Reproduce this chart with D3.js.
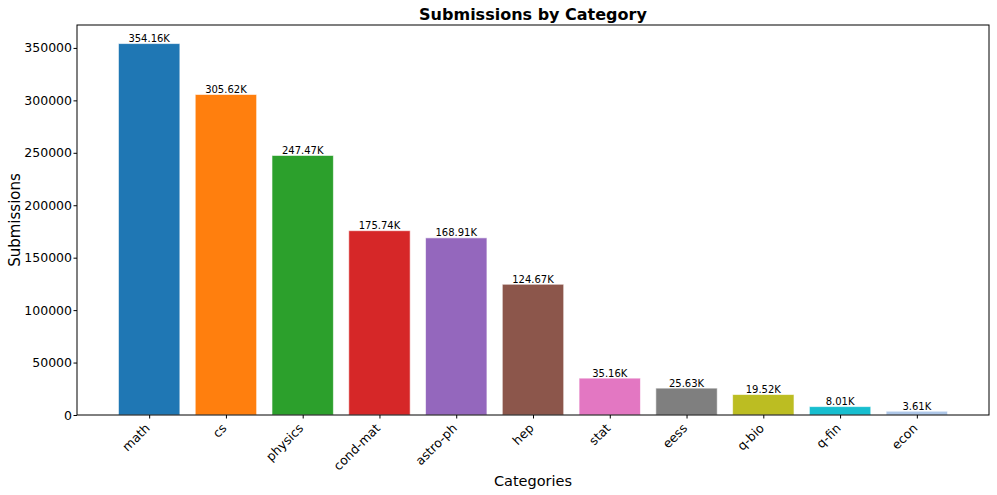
<!DOCTYPE html>
<meta charset="utf-8">
<style>
body { margin: 0; background: #fff; }
text { font-family: "DejaVu Sans", sans-serif; fill: #000; }
.axis text { font-size: 12.5px; }
.axis path, .axis line { stroke: #000; stroke-width: 1; }
.vlabel { font-size: 10px; }
</style>
<body>
<script src="https://d3js.org/d3.v7.min.js"></script>
<script>

var categories = ["math", "cs", "physics", "cond-mat", "astro-ph", "hep", "stat", "eess", "q-bio", "q-fin", "econ"];
var submissions = [354160, 305620, 247470, 175740, 168910, 124670, 35160, 25630, 19520, 8010, 3610];
var barLabels = ["354.16K", "305.62K", "247.47K", "175.74K", "168.91K", "124.67K", "35.16K", "25.63K", "19.52K", "8.01K", "3.61K"];
var yTicks = [0, 50000, 100000, 150000, 200000, 250000, 300000, 350000];
var colors = ["#1f77b4", "#ff7f0e", "#2ca02c", "#d62728", "#9467bd", "#8c564b", "#e377c2", "#7f7f7f", "#bcbd22", "#17becf", "#aec7e8"];

var margin = {top: 25, right: 8, bottom: 80, left: 77},
    width = 997 - margin.left - margin.right,
    height = 495 - margin.top - margin.bottom;

var svg = d3.select("body").append("svg")
    .attr("width", 997)
    .attr("height", 495);

var g = svg.append("g")
    .attr("transform", "translate(" + margin.left + "," + margin.top + ")");

// matplotlib style: bar width 0.8, 5% margins
var x = d3.scaleLinear()
    .domain([-0.94, categories.length - 1 + 0.94])
    .range([0, width]);

var y = d3.scaleLinear()
    .domain([0, d3.max(submissions) * 1.05])
    .range([height, 0]);

g.selectAll(".bar")
    .data(submissions)
  .enter().append("rect")
    .attr("class", "bar")
    .attr("x", function(d, i) { return x(i - 0.4); })
    .attr("width", x(0.4) - x(-0.4))
    .attr("y", function(d) { return y(d); })
    .attr("height", function(d) { return height - y(d); })
    .attr("fill", function(d, i) { return colors[i]; })
    .attr("stroke", "#fff")
    .attr("stroke-opacity", 0.6)
    .attr("stroke-width", 1);

g.selectAll(".vlabel")
    .data(submissions)
  .enter().append("text")
    .attr("class", "vlabel")
    .attr("x", function(d, i) { return x(i); })
    .attr("y", function(d) { return y(d) - 1.5; })
    .attr("text-anchor", "middle")
    .text(function(d, i) { return barLabels[i]; });

// frame
g.append("rect")
    .attr("width", width)
    .attr("height", height)
    .attr("fill", "none")
    .attr("stroke", "#000")
    .attr("stroke-width", 1);

var xAxis = g.append("g")
    .attr("class", "axis")
    .attr("transform", "translate(0," + height + ")")
    .call(d3.axisBottom(x)
        .tickValues(d3.range(categories.length))
        .tickFormat(function(i) { return categories[i]; })
        .tickSize(3.5)
        .tickSizeOuter(0));

xAxis.select(".domain").remove();
xAxis.selectAll("text")
    .attr("text-anchor", "end")
    .attr("dy", null)
    .attr("y", null)
    .attr("transform", "translate(1,14) rotate(-45)")
    .attr("font-size", "13px");

var yAxis = g.append("g")
    .attr("class", "axis")
    .call(d3.axisLeft(y)
        .tickValues(yTicks)
        .tickFormat(d3.format("d"))
        .tickSize(3.5)
        .tickPadding(1.5)
        .tickSizeOuter(0));
yAxis.select(".domain").remove();
yAxis.selectAll("text").attr("font-size", "12.5px");

svg.append("text")
    .attr("x", margin.left + width / 2)
    .attr("y", 20)
    .attr("text-anchor", "middle")
    .style("font-size", "16px")
    .style("font-weight", "bold")
    .text("Submissions by Category");

svg.append("text")
    .attr("x", margin.left + width / 2)
    .attr("y", 486)
    .attr("text-anchor", "middle")
    .style("font-size", "14.5px")
    .text("Categories");

svg.append("text")
    .attr("transform", "translate(20," + (margin.top + height / 2) + ") rotate(-90)")
    .attr("text-anchor", "middle")
    .style("font-size", "15px")
    .text("Submissions");
</script>
</body>
